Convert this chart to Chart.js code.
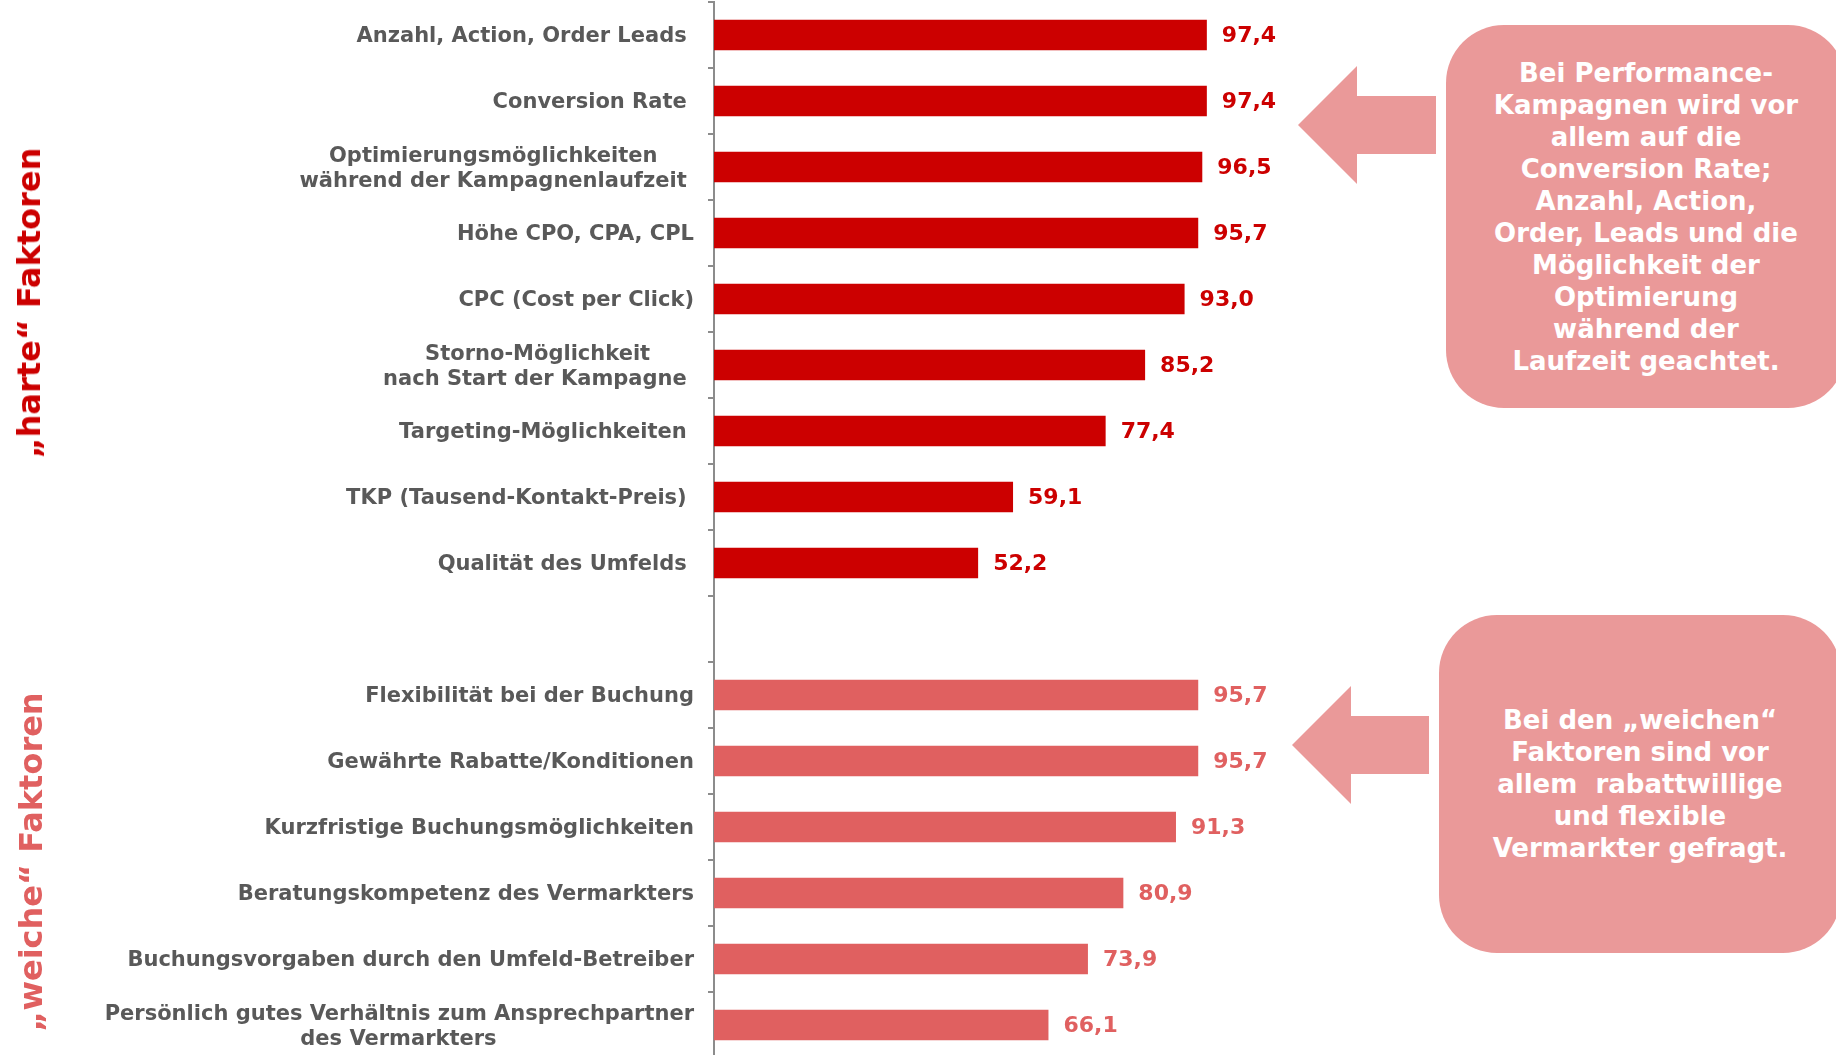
<!DOCTYPE html>
<html><head><meta charset="utf-8">
<script src="https://cdn.jsdelivr.net/npm/chart.js@4/dist/chart.umd.min.js"></script>
<style>
html,body{margin:0;padding:0;background:#fff;overflow:hidden;}
#wrap{position:relative;width:1836px;height:1055px;overflow:hidden;background:#fff;}
#c{position:absolute;left:0;top:0;}
.side{position:absolute;font-family:"DejaVu Sans";font-weight:bold;font-size:32px;white-space:pre;transform:translate(-50%,-50%) rotate(-90deg);}
.box{position:absolute;background:#EA9999;border-radius:58px;color:#fff;font-family:"DejaVu Sans";font-weight:bold;font-size:26px;line-height:32px;text-align:center;display:flex;align-items:center;justify-content:center;white-space:pre;}
svg.arrow{position:absolute;left:0;top:0;}
</style>
</head><body>
<div id="wrap">
<canvas id="c" width="1836" height="1058"></canvas>
<div class="side" style="left:29px;top:303px;color:#CC0000;">„harte“ Faktoren</div>
<div class="side" style="left:31px;top:862px;color:#E06060;">„weiche“ Faktoren</div>
<svg class="arrow" width="1836" height="1055">
<polygon points="1298,125 1357,66 1357,96 1436,96 1436,154 1357,154 1357,184" fill="#EA9999"/>
<polygon points="1292,745 1351,686 1351,716 1429,716 1429,774 1351,774 1351,804" fill="#EA9999"/>
</svg>
<div class="box" style="left:1446px;top:25px;width:400px;height:383px;">Bei Performance-
Kampagnen wird vor
allem auf die
Conversion Rate;
Anzahl, Action,
Order, Leads und die
Möglichkeit der
Optimierung
während der
Laufzeit geachtet.</div>
<div class="box" style="left:1439px;top:615px;width:402px;height:338px;">Bei den „weichen“
Faktoren sind vor
allem  rabattwillige
und flexible
Vermarkter gefragt.</div>
</div>
<script>
const hardLabels = [
  "Anzahl, Action, Order Leads ",
  "Conversion Rate ",
  ["Optimierungsmöglichkeiten", "während der Kampagnenlaufzeit "],
  "Höhe CPO, CPA, CPL",
  "CPC (Cost per Click)",
  ["Storno-Möglichkeit", "nach Start der Kampagne "],
  "Targeting-Möglichkeiten ",
  "TKP (Tausend-Kontakt-Preis) ",
  "Qualität des Umfelds "
];
const hardValues = [97.4, 97.4, 96.5, 95.7, 93.0, 85.2, 77.4, 59.1, 52.2];
const softLabels = [
  "Flexibilität bei der Buchung",
  "Gewährte Rabatte/Konditionen",
  "Kurzfristige Buchungsmöglichkeiten",
  "Beratungskompetenz des Vermarkters",
  "Buchungsvorgaben durch den Umfeld-Betreiber",
  ["Persönlich gutes Verhältnis zum Ansprechpartner", "des Vermarkters"]
];
const softValues = [95.7, 95.7, 91.3, 80.9, 73.9, 66.1];

const HARD = '#CC0000', SOFT = '#E06060';
const labelFont = 'bold 21px "DejaVu Sans"';

const categories = [...hardLabels, "", ...softLabels];
const hardData = [...hardValues, null, ...softLabels.map(() => null)];
const softData = [...hardLabels.map(() => null), null, ...softValues];

// center the lines of multi-line labels (as in the original)
const mctx = document.createElement('canvas').getContext('2d');
mctx.font = labelFont;
const spaceW = mctx.measureText(' ').width;
function centerLines(lbl) {
  if (!Array.isArray(lbl)) return lbl;
  const ws = lbl.map(l => mctx.measureText(l).width);
  const mx = Math.max(...ws);
  return lbl.map((l, i) => l + ' '.repeat(Math.round((mx - ws[i]) / 2 / spaceW)));
}

const valueLabels = {
  id: 'valueLabels',
  afterDatasetsDraw(chart) {
    const ctx = chart.ctx;
    chart.data.datasets.forEach((ds, i) => {
      const meta = chart.getDatasetMeta(i);
      meta.data.forEach((bar, j) => {
        const v = ds.data[j];
        if (v == null) return;
        ctx.save();
        ctx.font = 'bold 22px "DejaVu Sans"';
        ctx.fillStyle = ds.labelColor;
        ctx.textAlign = 'left';
        ctx.textBaseline = 'middle';
        ctx.fillText(v.toFixed(1).replace('.', ','), bar.x + 15, bar.y + 1);
        ctx.restore();
      });
    });
  }
};

new Chart(document.getElementById('c'), {
  type: 'bar',
  data: {
    labels: categories.map(centerLines),
    datasets: [
      { data: hardData, backgroundColor: HARD, labelColor: HARD, grouped: false, barPercentage: 0.46, categoryPercentage: 1 },
      { data: softData, backgroundColor: SOFT, labelColor: SOFT, grouped: false, barPercentage: 0.46, categoryPercentage: 1 }
    ]
  },
  options: {
    indexAxis: 'y',
    responsive: false,
    animation: false,
    layout: { padding: { top: 2, right: 616, bottom: 0, left: 0 } },
    plugins: { legend: { display: false }, tooltip: { enabled: false } },
    scales: {
      x: { min: 0, max: 100, display: false },
      y: {
        grid: { display: true, drawOnChartArea: false, offset: true, tickLength: 6, color: '#8C8C8C', lineWidth: 2 },
        border: { display: true, color: '#8C8C8C', width: 2 },
        ticks: { color: '#595959', font: { family: 'DejaVu Sans', weight: 'bold', size: 21 }, padding: 14, autoSkip: false, labelOffset: 2 },
        afterFit(s) { s.width = 714; s.paddingTop = 0; s.paddingBottom = 0; }
      }
    }
  },
  plugins: [valueLabels]
});
</script>
</body></html>
